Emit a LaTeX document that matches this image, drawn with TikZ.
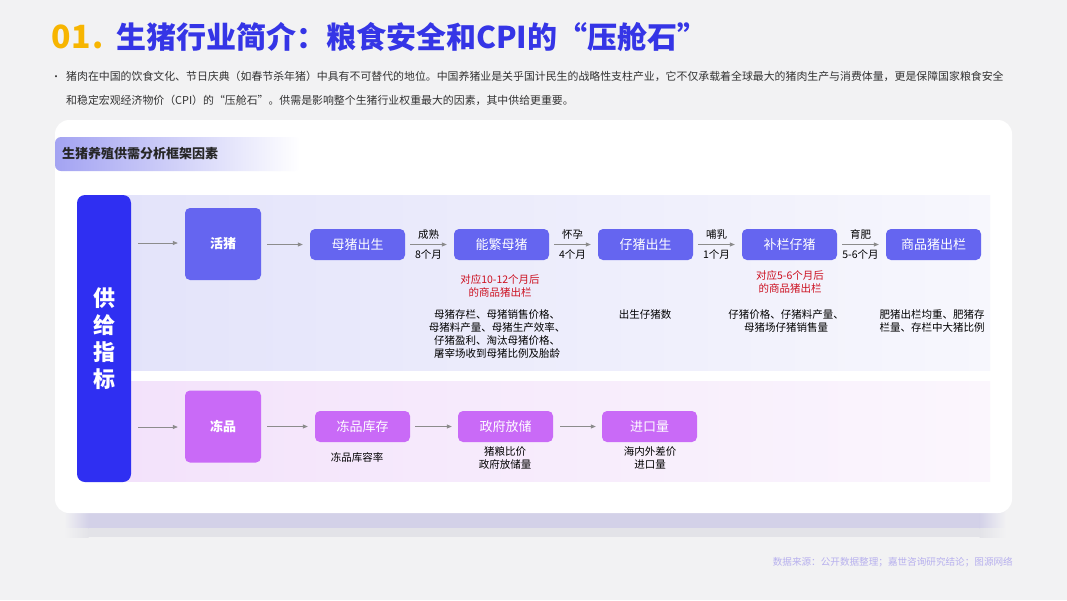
\documentclass[tikz,border=0pt]{standalone}
\usepackage{fontspec}
\setmainfont{Noto Sans CJK SC}
\newfontfamily\blackfont{Noto Sans CJK SC Black}
\usetikzlibrary{arrows.meta}
\definecolor{pagebg}{HTML}{F2F2F3}
\definecolor{titleyel}{HTML}{F7B500}
\definecolor{titleblue}{HTML}{3535E6}
\definecolor{bodytxt}{HTML}{333333}
\definecolor{hdrc}{HTML}{A3A3F2}
\definecolor{barc}{HTML}{2F2FF2}
\definecolor{upc}{HTML}{6565F0}
\definecolor{lowc}{HTML}{C96AF7}
\definecolor{uppanL}{HTML}{E3E3FA}
\definecolor{uppanR}{HTML}{F7F7FD}
\definecolor{lowpanL}{HTML}{F3E2FB}
\definecolor{lowpanR}{HTML}{FBF6FD}
\definecolor{redtxt}{HTML}{CC1020}
\definecolor{arrc}{HTML}{8C8C8C}
\definecolor{footc}{HTML}{B7B0EE}
\definecolor{shadA}{HTML}{D3D1E8}
\definecolor{shadB}{HTML}{E3E3E8}
\begin{document}
\begin{tikzpicture}[x=1pt,y=-1pt,
  upbox/.style={rectangle, rounded corners=5pt, fill=upc, text=white, font=\fontsize{13}{15}\selectfont, minimum width=95pt, minimum height=31pt, inner sep=0pt},
  upsq/.style={upbox, minimum width=76pt, minimum height=72pt, font=\bfseries\fontsize{13}{15}\selectfont},
  lowbox/.style={upbox, fill=lowc},
  lowsq/.style={upsq, fill=lowc},
  flow/.style={draw=arrc, line width=0.7pt, -{Triangle[length=5pt,width=4pt]}},
  lbl/.style={font=\fontsize{10.5}{12}\selectfont, text=black, inner sep=1pt},
  desc/.style={font=\fontsize{10.5}{13}\selectfont, text=black, align=center, inner sep=0pt, anchor=north},
  red/.style={desc, text=redtxt, font=\fontsize{10.5}{13}\selectfont}
]
\useasboundingbox (0,0) rectangle (1067,600);
\fill[pagebg] (0,0) rectangle (1067,600);

% title
\node[anchor=base west, inner sep=0pt, text=titleyel, font=\blackfont\fontsize{32}{34}\selectfont] (num) at (51,48) {0\kern1pt1\kern1pt.};
\node[anchor=base west, inner sep=0pt, text=titleblue, font=\blackfont\fontsize{30}{34}\selectfont] (title) at (116,48) {生猪行业简介：粮食安全和CPI的“压舱石”};

% intro bullet
\node[inner sep=0pt, text=bodytxt, font=\fontsize{10}{12}\selectfont] (dot) at (56,78) {•};
\node[anchor=north west, inner sep=0pt, text=bodytxt, align=left, font=\fontsize{10.9}{24}\selectfont] (intro) at (66,71)
 {猪肉在中国的饮食文化、节日庆典（如春节杀年猪）中具有不可替代的地位。中国养猪业是关乎国计民生的战略性支柱产业，它不仅承载着全球最大的猪肉生产与消费体量，更是保障国家粮食安全\\和稳定宏观经济物价（CPI）的“压舱石”。供需是影响整个生猪行业权重最大的因素，其中供给更重要。};

% card shadow and card
\fill[shadA] (88,510) rectangle (980,528);
\fill[shadB] (88,528) rectangle (980,537);
\shade[left color=pagebg, right color=shadA] (64,510) rectangle (88.5,528);
\shade[left color=pagebg, right color=shadB] (64,528) rectangle (88.5,537);
\shade[left color=shadA, right color=pagebg] (979.5,510) rectangle (1006,528);
\shade[left color=shadB, right color=pagebg] (979.5,528) rectangle (1006,537);
\fill[white, rounded corners=14pt] (55,120) rectangle (1012,513);

% section header
\shade[left color=hdrc, right color=white, rounded corners=6pt] (55,137) rectangle (300,171);
\node[anchor=west, inner sep=0pt, text=black!85, font=\bfseries\fontsize{13}{15}\selectfont] (hdr) at (62,154) {生猪养殖供需分析框架因素};

% panels
\shade[left color=uppanL, right color=uppanR] (120,195) rectangle (990,370);
\shade[left color=lowpanL, right color=lowpanR] (120,381) rectangle (990,481);

% vertical bar
\fill[barc, rounded corners=8pt] (77,195) rectangle (131,482);
\node[text=white, align=center, font=\blackfont\fontsize{22}{27}\selectfont, inner sep=0pt] (bar) at (104,339) {供\\给\\指\\标};

% upper row
\coordinate (us) at (138,243);
\node[upsq] (hz) at (223,244) {活猪};
\node[upbox] (mc) at (357.5,244.5) {母猪出生};
\node[upbox] (nf) at (501.5,244.5) {能繁母猪};
\node[upbox] (zc) at (645.5,244.5) {仔猪出生};
\node[upbox] (bl) at (789.5,244.5) {补栏仔猪};
\node[upbox] (sp) at (933.5,244.5) {商品猪出栏};

\draw[flow] (us) -- ([xshift=-7pt]hz.west |- us);
\draw[flow] ([xshift=6pt]hz.east |- mc) -- ([xshift=-7pt]mc.west);
\draw[flow] ([xshift=5pt]mc.east) -- ([xshift=-7pt]nf.west) node[lbl, midway, above=4pt] {成熟} node[lbl, midway, below=4pt] {8个月};
\draw[flow] ([xshift=5pt]nf.east) -- ([xshift=-7pt]zc.west) node[lbl, midway, above=4pt] {怀孕} node[lbl, midway, below=4pt] {4个月};
\draw[flow] ([xshift=5pt]zc.east) -- ([xshift=-7pt]bl.west) node[lbl, midway, above=4pt] {哺乳} node[lbl, midway, below=4pt] {1个月};
\draw[flow] ([xshift=5pt]bl.east) -- ([xshift=-7pt]sp.west) node[lbl, midway, above=4pt] {育肥} node[lbl, midway, below=4pt] {5-6个月};

\node[red] (nfred) at (500,274) {对应10-12个月后\\的商品猪出栏};
\node[desc] (nfd) at (497,309) {母猪存栏、母猪销售价格、\\母猪料产量、母猪生产效率、\\仔猪盈利、淘汰母猪价格、\\屠宰场收到母猪比例及胎龄};
\node[desc] (zcd) at (645,309) {出生仔猪数};
\node[red] (blred) at (790,270) {对应5-6个月后\\的商品猪出栏};
\node[desc] (bld) at (786,309) {仔猪价格、仔猪料产量、\\母猪场仔猪销售量};
\node[desc] (spd) at (932,309) {肥猪出栏均重、肥猪存\\栏量、存栏中大猪比例};

% lower row
\coordinate (ls) at (138,427);
\node[lowsq] (dp) at (223,426.5) {冻品};
\node[lowbox] (kc) at (362.5,426.5) {冻品库存};
\node[lowbox] (zf) at (505.5,426.5) {政府放储};
\node[lowbox] (jk) at (649.5,426.5) {进口量};

\draw[flow] (ls) -- ([xshift=-7pt]dp.west |- ls);
\draw[flow] ([xshift=6pt]dp.east |- kc) -- ([xshift=-7pt]kc.west);
\draw[flow] ([xshift=5pt]kc.east) -- ([xshift=-6pt]zf.west);
\draw[flow] ([xshift=7pt]zf.east) -- ([xshift=-6pt]jk.west);

\node[desc] (kcd) at (357,452) {冻品库容率};
\node[desc] (zfd) at (505,446) {猪粮比价\\政府放储量};
\node[desc] (jkd) at (650,446) {海内外差价\\进口量};

% footer
\node[anchor=east, inner sep=0pt, text=footc, font=\fontsize{9.6}{11}\selectfont] (foot) at (1013,562) {数据来源：公开数据整理；嘉世咨询研究结论；图源网络};
\end{tikzpicture}
\end{document}
